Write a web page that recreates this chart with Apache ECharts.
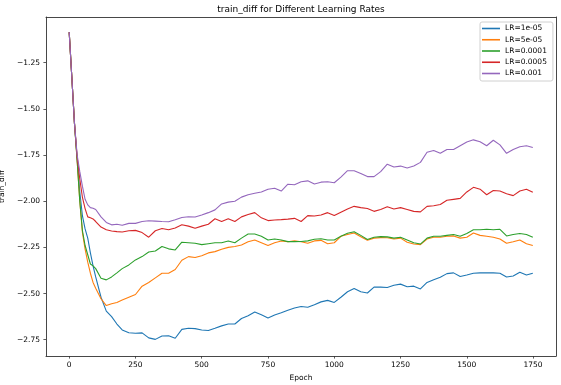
<!DOCTYPE html>
<html>
<head>
<meta charset="utf-8">
<script src="https://cdn.jsdelivr.net/npm/echarts@6/dist/echarts.min.js"></script>
<style>
  html, body { margin: 0; padding: 0; background: #fff; }
  #chart { width: 561px; height: 385px; }
</style>
</head>
<body>
<div id="chart"></div>
<script>
const epochs = [
  0, 10, 20, 30, 40, 50, 60, 70, 80, 90, 100, 120, 140, 160, 180, 200,
  225, 250, 275, 300, 325, 350, 375, 400, 425, 450, 475, 500, 525, 550, 575, 600,
  625, 650, 675, 700, 725, 750, 775, 800, 825, 850, 875, 900, 925, 950, 975, 1000,
  1025, 1050, 1075, 1100, 1125, 1150, 1175, 1200, 1225, 1250, 1275, 1300, 1325, 1350, 1375, 1400,
  1425, 1450, 1475, 1500, 1525, 1550, 1575, 1600, 1625, 1650, 1675, 1700, 1725, 1749,
];

const lr1e5 = [
  -1.085, -1.33, -1.58, -1.77, -1.95, -2.08, -2.15, -2.2, -2.28, -2.35, -2.41, -2.52, -2.595, -2.625, -2.665, -2.697,
  -2.712, -2.715, -2.713, -2.74, -2.748, -2.73, -2.728, -2.742, -2.694, -2.688, -2.69, -2.697, -2.7, -2.688, -2.675, -2.665,
  -2.665, -2.635, -2.62, -2.6, -2.615, -2.632, -2.616, -2.604, -2.59, -2.578, -2.57, -2.574, -2.56, -2.545, -2.537, -2.548,
  -2.52, -2.49, -2.472, -2.49, -2.497, -2.465, -2.465, -2.467, -2.455, -2.449, -2.463, -2.46, -2.475, -2.44, -2.425, -2.412,
  -2.392, -2.388, -2.408, -2.4, -2.39, -2.388, -2.388, -2.388, -2.39, -2.41, -2.405, -2.385, -2.4, -2.39,
];

const lr5e5 = [
  -1.085, -1.33, -1.58, -1.78, -2.0, -2.17, -2.26, -2.33, -2.39, -2.44, -2.471, -2.528, -2.565, -2.555, -2.548, -2.535,
  -2.52, -2.505, -2.46, -2.44, -2.415, -2.39, -2.39, -2.37, -2.32, -2.3, -2.305, -2.295, -2.28, -2.273, -2.26, -2.25,
  -2.245, -2.237, -2.22, -2.21, -2.225, -2.24, -2.225, -2.215, -2.22, -2.215, -2.22, -2.228, -2.215, -2.212, -2.23, -2.225,
  -2.19, -2.18, -2.172, -2.192, -2.212, -2.2, -2.197, -2.198, -2.205, -2.2, -2.222, -2.232, -2.235, -2.205, -2.195, -2.195,
  -2.19, -2.188, -2.2, -2.195, -2.172, -2.185, -2.19, -2.195, -2.205, -2.228, -2.22, -2.21, -2.23, -2.24,
];

const lr1e4 = [
  -1.085, -1.33, -1.58, -1.78, -2.0, -2.16, -2.24, -2.29, -2.34, -2.35, -2.365, -2.417, -2.426, -2.41, -2.388, -2.365,
  -2.345, -2.318, -2.3, -2.275, -2.27, -2.245, -2.258, -2.264, -2.222, -2.225, -2.228, -2.235, -2.23, -2.225, -2.225, -2.215,
  -2.225, -2.2, -2.178, -2.178, -2.19, -2.21, -2.205, -2.21, -2.219, -2.219, -2.218, -2.215, -2.206, -2.203, -2.21, -2.21,
  -2.19, -2.174, -2.165, -2.185, -2.207, -2.195, -2.192, -2.193, -2.2, -2.195, -2.21, -2.225, -2.232, -2.2, -2.19, -2.19,
  -2.185, -2.18, -2.19, -2.175, -2.155, -2.155, -2.152, -2.155, -2.152, -2.188, -2.18, -2.175, -2.18, -2.195,
];

const lr5e4 = [
  -1.085, -1.33, -1.58, -1.76, -1.88, -1.98, -2.04, -2.085, -2.09, -2.096, -2.11, -2.14, -2.155, -2.161, -2.165, -2.167,
  -2.16, -2.158, -2.17, -2.195, -2.16, -2.148, -2.155, -2.145, -2.128, -2.135, -2.147, -2.135, -2.125, -2.095, -2.11, -2.095,
  -2.11, -2.085, -2.072, -2.062, -2.09, -2.105, -2.102, -2.1, -2.097, -2.093, -2.11, -2.078, -2.08, -2.075, -2.062, -2.078,
  -2.06, -2.042, -2.028, -2.035, -2.04, -2.055, -2.045, -2.03, -2.042, -2.035, -2.045, -2.055, -2.058, -2.028, -2.025, -2.018,
  -1.995, -1.99, -1.985, -1.95, -1.925, -1.935, -1.965, -1.942, -1.945, -1.96, -1.97, -1.945, -1.935, -1.952,
];

const lr1e3 = [
  -1.085, -1.33, -1.58, -1.75, -1.84, -1.92, -1.99, -2.02, -2.035, -2.038, -2.045, -2.085, -2.115, -2.128, -2.125, -2.13,
  -2.12, -2.12, -2.11, -2.106, -2.108, -2.11, -2.111, -2.1, -2.088, -2.084, -2.086, -2.075, -2.062, -2.047, -2.015, -2.005,
  -2.0, -1.978, -1.965, -1.957, -1.95, -1.935, -1.93, -1.945, -1.908, -1.911, -1.895, -1.89, -1.907, -1.897, -1.895, -1.9,
  -1.87, -1.835, -1.835, -1.85, -1.867, -1.867, -1.84, -1.8, -1.815, -1.81, -1.82, -1.81, -1.79, -1.735, -1.726, -1.741,
  -1.72, -1.72, -1.7, -1.68, -1.668, -1.678, -1.7, -1.67, -1.695, -1.741, -1.72, -1.705, -1.7, -1.709,
];

const seriesNames = ["LR=1e-05", "LR=5e-05", "LR=0.0001", "LR=0.0005", "LR=0.001"];
const seriesValues = [lr1e5, lr5e5, lr1e4, lr5e4, lr1e3];
const seriesColors = ["#1f77b4", "#ff7f0e", "#2ca02c", "#d62728", "#9467bd"];

const xTicks = [0, 250, 500, 750, 1000, 1250, 1500, 1750];
const yTicks = [-2.75, -2.5, -2.25, -2.0, -1.75, -1.5, -1.25];

const fontFamily = "DejaVu Sans";
const axisColor = "#333";
const xRange = { min: -87.5, max: 1836.5 };
const yRange = { min: -2.838, max: -1.003 };

const spine = { show: true, onZero: false, lineStyle: { color: axisColor, width: 0.9 } };

const chart = echarts.init(document.getElementById("chart"), null, { renderer: "canvas" });

chart.setOption({
  animation: false,
  title: {
    text: "train_diff for Different Learning Rates",
    left: 301,
    textAlign: "center",
    top: 5,
    padding: 0,
    textStyle: { fontFamily, fontSize: 9, fontWeight: "normal", color: "#000" },
  },
  legend: {
    orient: "vertical",
    left: 480,
    top: 22,
    padding: [2, 6, 3, 2],
    itemGap: 2.25,
    itemWidth: 18,
    itemHeight: 1.6,
    icon: "rect",
    backgroundColor: "rgba(255,255,255,0.8)",
    borderColor: "#d0d0d0",
    borderWidth: 1,
    borderRadius: 2,
    textStyle: { fontFamily, fontSize: 7.5, lineHeight: 9, color: "#000" },
    data: seriesNames,
  },
  grid: {
    left: 46,
    right: 5,
    top: 17,
    bottom: 29,
    containLabel: false,
    outerBoundsMode: "none",
  },
  xAxis: [
    {
      type: "value",
      ...xRange,
      name: "Epoch",
      nameLocation: "middle",
      nameGap: 15.5,
      nameTextStyle: { fontFamily, fontSize: 7.5, color: "#000" },
      axisLine: spine,
      axisTick: { show: true, length: 2.6, lineStyle: { color: axisColor, width: 0.8 }, customValues: xTicks },
      axisLabel: { fontFamily, fontSize: 7.5, color: "#000", margin: 5, customValues: xTicks,
        formatter: (v) => String(v) },
      splitLine: { show: false },
    },
    {
      type: "value",
      position: "top",
      ...xRange,
      axisLine: spine,
      axisTick: { show: false },
      axisLabel: { show: false },
      splitLine: { show: false },
    },
  ],
  yAxis: [
    {
      type: "value",
      ...yRange,
      name: "train_diff",
      nameLocation: "middle",
      nameGap: 31,
      nameTextStyle: { fontFamily, fontSize: 7.5, color: "#000" },
      axisLine: spine,
      axisTick: { show: true, length: 2.6, lineStyle: { color: axisColor, width: 0.8 }, customValues: yTicks },
      axisLabel: { fontFamily, fontSize: 7.5, color: "#000", margin: 6, customValues: yTicks,
        formatter: (v) => v.toFixed(2).replace("-", "\u2212") },
      splitLine: { show: false },
    },
    {
      type: "value",
      position: "right",
      ...yRange,
      axisLine: spine,
      axisTick: { show: false },
      axisLabel: { show: false },
      splitLine: { show: false },
    },
  ],
  series: seriesNames.map((name, i) => ({
    name,
    type: "line",
    showSymbol: false,
    symbol: "none",
    lineStyle: { width: 1.1, color: seriesColors[i] },
    itemStyle: { color: seriesColors[i] },
    data: epochs.map((e, j) => [e, seriesValues[i][j]]),
  })),
});
</script>
</body>
</html>
